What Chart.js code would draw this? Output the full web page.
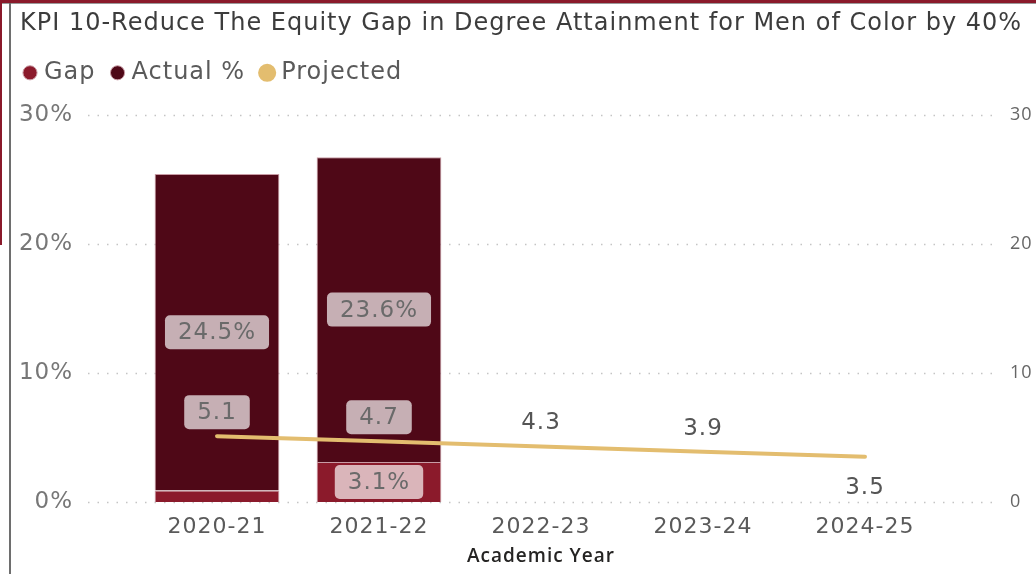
<!DOCTYPE html>
<html>
<head>
<meta charset="utf-8">
<script src="https://cdn.jsdelivr.net/npm/chart.js@4.4.0/dist/chart.umd.min.js"></script>
<style>
  html, body { margin: 0; padding: 0; background: #fff; }
  #wrap { position: relative; width: 1036px; height: 574px; overflow: hidden; }
  #chart { position: absolute; left: 0; top: 0; }
  .topbar { position: absolute; left: 0; top: 0; width: 1036px; height: 3px; background: #8a1a2b; }
  .topline { position: absolute; left: 0; top: 3px; width: 1036px; height: 1px; background: #9a9a9a; }
  .leftbar { position: absolute; left: 0; top: 0; width: 2px; height: 245px; background: #8a1a2b; }
  .leftline { position: absolute; left: 9px; top: 3px; width: 2px; height: 571px; background: #6e6e6e; }
</style>
</head>
<body>
<div id="wrap">
  <canvas id="chart" width="1036" height="574"></canvas>
  <div class="topbar"></div>
  <div class="topline"></div>
  <div class="leftbar"></div>
  <div class="leftline"></div>
</div>
<script>
const categories = ["2020-21", "2021-22", "2022-23", "2023-24", "2024-25"];
const gapValues = [0.9, 3.1, null, null, null];
const actualValues = [24.5, 23.6, null, null, null];
const projectedValues = [5.1, 4.7, 4.3, 3.9, 3.5];
const leftTicks = [0, 10, 20, 30];
const seriesNames = ["Gap", "Actual %", "Projected"];

const WIDE = '"DejaVu Sans", sans-serif';
const UI = '"Open Sans", sans-serif';

// rounded box + value text
function drawLabel(ctx, text, x, y, boxed) {
  ctx.font = "23px " + WIDE;
  const tw = ctx.measureText(text).width;
  if (boxed) {
    const w = tw + 26, h = 34;
    ctx.fillStyle = "rgba(255,255,255,0.68)";
    ctx.beginPath();
    ctx.roundRect(x - w / 2, y - h / 2, w, h, 5);
    ctx.fill();
    ctx.fillStyle = "#6a6a6a";
  } else {
    ctx.fillStyle = "#555555";
  }
  ctx.fillText(text, x, y + 1);
}

// the original font is wider, so space the letters a bit
const spacing = {
  id: "spacing",
  beforeUpdate(chart) { chart.ctx.letterSpacing = "1px"; },
  beforeDraw(chart) { chart.ctx.letterSpacing = "1px"; },
};

const dottedGrid = {
  id: "dottedGrid",
  beforeDatasetsDraw(chart) {
    const ctx = chart.ctx;
    const y = chart.scales.y;
    const area = chart.chartArea;
    ctx.save();
    ctx.strokeStyle = "#c4c4c4";
    ctx.lineWidth = 1.5;
    ctx.setLineDash([1.5, 8]);
    y.ticks.forEach((t) => {
      const py = Math.round(y.getPixelForValue(t.value)) + 0.5;
      ctx.beginPath();
      ctx.moveTo(area.left - 48, py);
      ctx.lineTo(area.right + 49, py);
      ctx.stroke();
    });
    ctx.restore();
  },
};

const valueLabels = {
  id: "valueLabels",
  afterDatasetsDraw(chart) {
    const ctx = chart.ctx;
    ctx.save();
    ctx.textAlign = "center";
    ctx.textBaseline = "middle";
    [0, 1].forEach((di) => {
      const meta = chart.getDatasetMeta(di);
      meta.data.forEach((bar, i) => {
        const v = chart.data.datasets[di].data[i];
        if (v == null) return;
        const h = Math.abs(bar.base - bar.y);
        if (h < 30) return; // too thin for a label
        drawLabel(ctx, v.toFixed(1) + "%", bar.x, (bar.y + bar.base) / 2, true);
      });
    });
    const lm = chart.getDatasetMeta(2);
    lm.data.forEach((pt, i) => {
      const last = i === lm.data.length - 1;
      const boxed = actualValues[i] != null;
      const ly = last ? pt.y + 30 : pt.y - 24;
      drawLabel(ctx, projectedValues[i].toFixed(1), pt.x, ly, boxed);
    });
    ctx.restore();
  },
};

// title sits a bit right of the legend
const nudgeTitle = {
  id: "nudgeTitle",
  afterLayout(chart) {
    chart.titleBlock.left += 12;
  },
};

// side axes: labels sit far from the plot, but that should not pad the plot
const noEndPadding = (scale) => {
  scale.paddingTop = 0;
  scale.paddingBottom = 0;
};

let ctx = document.getElementById("chart").getContext("2d");
let config = {
  type: "bar",
  data: {
    labels: categories,
    datasets: [
      {
        label: seriesNames[0],
        data: gapValues,
        backgroundColor: "#8b1a2b",
        borderColor: "#c99ca5",
        borderWidth: 1,
        barPercentage: 0.77,
        categoryPercentage: 1,
        yAxisID: "y",
        order: 1,
      },
      {
        label: seriesNames[1],
        data: actualValues,
        backgroundColor: "#4f0817",
        borderColor: "#c99ca5",
        borderWidth: 1,
        barPercentage: 0.77,
        categoryPercentage: 1,
        yAxisID: "y",
        order: 1,
      },
      {
        type: "line",
        label: seriesNames[2],
        data: projectedValues,
        borderColor: "#e3bd6f",
        backgroundColor: "#e3bd6f",
        borderWidth: 4,
        borderCapStyle: "round",
        pointRadius: 0,
        tension: 0,
        yAxisID: "y1",
        order: 0,
      },
    ],
  },
  options: {
    responsive: false,
    animation: false,
    layout: { padding: { left: 8, top: 7, right: 0, bottom: 6 } },
    plugins: {
      title: {
        display: true,
        text: "KPI 10-Reduce The Equity Gap in Degree Attainment for Men of Color by 40%",
        align: "start",
        color: "#3c3c3c",
        font: { family: WIDE, size: 24, weight: "normal" },
        padding: { top: 2, bottom: 3 },
      },
      subtitle: {
        // empty spacer between legend and plot
        display: true,
        text: "",
        weight: 500,
        font: { size: 14 },
        padding: { top: 3, bottom: 0 },
      },
      legend: {
        position: "top",
        align: "start",
        labels: {
          usePointStyle: true,
          pointStyle: "circle",
          boxWidth: 4,
          boxHeight: 10,
          padding: 20,
          color: "#5a5a5a",
          font: { family: WIDE, size: 24 },
          sort: (a, b) => a.datasetIndex - b.datasetIndex,
        },
      },
      tooltip: { enabled: false },
    },
    scales: {
      x: {
        stacked: true,
        grid: { display: false },
        border: { display: false },
        ticks: { color: "#5a5a5a", font: { family: WIDE, size: 22 }, padding: 4 },
        title: {
          display: true,
          text: "Academic Year",
          color: "#252423",
          font: { family: UI, size: 19, weight: "600" },
          padding: { top: 0, bottom: 0 },
        },
        afterFit: (scale) => { scale.height = 66; },
      },
      y: {
        stacked: true,
        position: "left",
        min: 0,
        max: 30,
        afterBuildTicks: (scale) => { scale.ticks = leftTicks.map((v) => ({ value: v })); },
        grid: { display: false, drawTicks: false },
        border: { display: false },
        ticks: {
          color: "#777777",
          font: { family: WIDE, size: 23 },
          padding: 63,
          callback: (v) => v + "%",
        },
        afterFit: (scale) => { scale.width = 128; noEndPadding(scale); },
      },
      y1: {
        position: "right",
        min: 0,
        max: 30,
        afterBuildTicks: (scale) => { scale.ticks = leftTicks.map((v) => ({ value: v })); },
        grid: { display: false, drawTicks: false },
        border: { display: false },
        ticks: { color: "#666666", font: { family: UI, size: 18 }, padding: 64 },
        afterFit: (scale) => { scale.width = 90; noEndPadding(scale); },
      },
    },
  },
  plugins: [spacing, dottedGrid, valueLabels, nudgeTitle],
};
let chart = new Chart(ctx, config);
</script>
</body>
</html>
